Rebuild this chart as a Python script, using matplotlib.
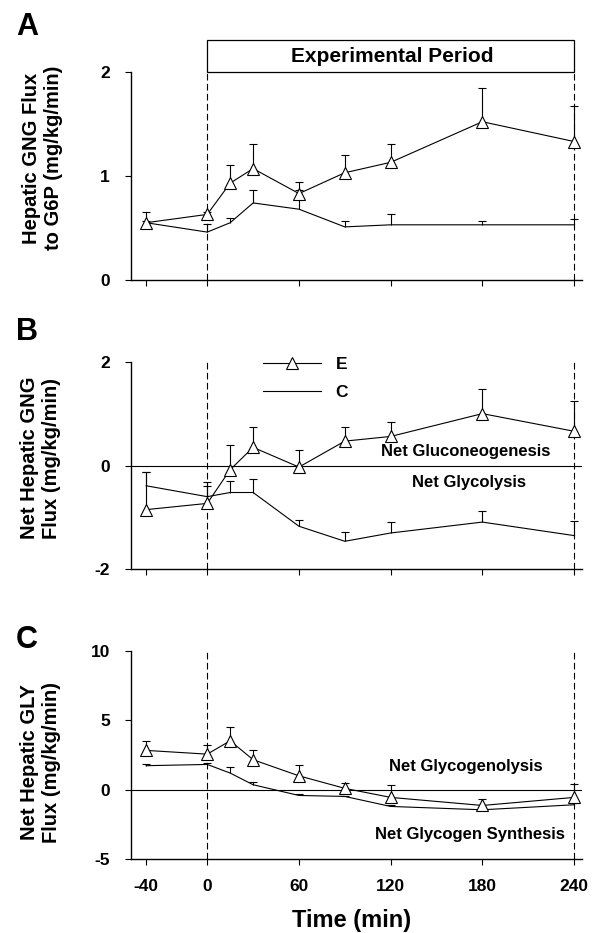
import matplotlib
matplotlib.use("Agg")
import matplotlib.pyplot as plt
from matplotlib.patches import Rectangle
from matplotlib.lines import Line2D
import numpy as np

plt.rcParams['font.family'] = ['Liberation Sans', 'DejaVu Sans']
plt.rcParams['font.weight'] = 'bold'
plt.rcParams['axes.unicode_minus'] = False

# time points (min)
t = [-40, 0, 15, 30, 60, 90, 120, 180, 240]

# panel A: hepatic GNG flux to G6P
e_a = [0.55, 0.63, 0.93, 1.07, 0.83, 1.03, 1.13, 1.52, 1.33]
e_a_err = [0.10, 0.02, 0.17, 0.24, 0.11, 0.17, 0.18, 0.32, 0.34]
c_a = [0.55, 0.46, 0.55, 0.74, 0.68, 0.51, 0.53, 0.53, 0.53]
c_a_err = [0.02, 0.08, 0.05, 0.12, 0.18, 0.06, 0.10, 0.04, 0.06]

# panel B: net hepatic GNG flux
e_b = [-0.85, -0.73, -0.08, 0.35, -0.03, 0.47, 0.56, 1.00, 0.66]
e_b_err = [0.72, 0.34, 0.47, 0.39, 0.33, 0.28, 0.27, 0.48, 0.59]
c_b = [-0.39, -0.60, -0.52, -0.52, -1.17, -1.46, -1.30, -1.09, -1.35]
c_b_err = [0.26, 0.29, 0.23, 0.26, 0.12, 0.18, 0.22, 0.22, 0.28]

# panel C: net hepatic GLY flux
e_c = [2.83, 2.56, 3.52, 2.16, 1.00, 0.10, -0.55, -1.13, -0.55]
e_c_err = [0.64, 0.63, 0.96, 0.72, 0.80, 0.38, 0.91, 0.46, 0.98]
c_c = [1.73, 1.82, 1.20, 0.36, -0.41, -0.48, -1.20, -1.44, -1.08]
c_c_err = [0.14, 0.10, 0.43, 0.17, 0.12, 0.05, 0.10, 0.10, 0.10]

xticks = [-40, 0, 60, 120, 180, 240]

fig = plt.figure(figsize=(5.92, 9.33), dpi=100)
L, W = 0.221, 0.7616
axA = fig.add_axes([L, 0.6999, W, 0.2232])
axB = fig.add_axes([L, 0.3898, W, 0.2225])
axC = fig.add_axes([L, 0.0790, W, 0.2236])


def draw(ax, e, e_err, c, c_err, ylim, yticks):
    x = np.array(t)
    e = np.array(e); c = np.array(c)
    for y, err in ((c, np.array(c_err)), (e, np.array(e_err))):
        ax.vlines(x, y, y + err, color='black', lw=0.8, zorder=2)
        ax.plot(x, y + err, ls='none', marker='_', ms=6, mew=0.8, color='black', zorder=2)
    ax.plot(x, c, color='black', lw=0.8, zorder=3)
    ax.plot(x, e, color='black', lw=0.8, marker='^', ms=9, mfc='white',
            mec='black', mew=0.8, zorder=4)
    ax.set_xlim(-50, 245)
    ax.set_ylim(*ylim)
    ax.set_yticks(yticks)
    ax.set_xticks(xticks)
    for v in (0, 240):
        ax.axvline(v, color='black', lw=0.8, dashes=(6, 3), zorder=1)
    for s in ('top', 'right'):
        ax.spines[s].set_visible(False)
    for s in ('left', 'bottom'):
        ax.spines[s].set_linewidth(1.0)
    ax.tick_params(direction='out', length=4, width=0.8, labelsize=12.5)
    ax.tick_params(axis='y', pad=11)
    ax.tick_params(axis='x', pad=10)


draw(axA, e_a, e_a_err, c_a, c_a_err, (0, 2), [0, 1, 2])
draw(axB, e_b, e_b_err, c_b, c_b_err, (-2, 2), [-2, 0, 2])
draw(axC, e_c, e_c_err, c_c, c_c_err, (-5, 10), [-5, 0, 5, 10])
axA.set_xticklabels([])
axB.set_xticklabels([])

for ax in (axB, axC):
    ax.axhline(0, color='black', lw=0.8, zorder=1)

# experimental period box
axA.add_patch(Rectangle((0, 2), 240, 0.305, fill=False, ec='black', lw=0.9, clip_on=False))
axA.text(121, 2.145, 'Experimental Period', ha='center', va='center', fontsize=15, fontweight='bold')

# annotations
axB.text(169, 0.275, 'Net Gluconeogenesis', ha='center', va='center', fontsize=12)
axB.text(171, -0.33, 'Net Glycolysis', ha='center', va='center', fontsize=12)
axC.text(169, 1.67, 'Net Glycogenolysis', ha='center', va='center', fontsize=12)
axC.text(172, -3.23, 'Net Glycogen Synthesis', ha='center', va='center', fontsize=12)

# legend
handles = [Line2D([], [], color='black', lw=0.8, marker='^', ms=9, mfc='white', mec='black', mew=0.8),
           Line2D([], [], color='black', lw=0.8)]
axB.legend(handles, ['E', 'C'], loc='upper left', bbox_to_anchor=(0.294, 1.022),
           frameon=False, fontsize=12.5, handlelength=3.3, handletextpad=0.85,
           labelspacing=0.7, borderpad=0, borderaxespad=0)

# y labels
fig.text(0.071, 0.8307, 'Hepatic GNG Flux\nto G6P (mg/kg/min)', rotation=90,
         ha='center', va='center', fontsize=14.5, fontweight='bold')
fig.text(0.068, 0.5091, 'Net Hepatic GNG\nFlux (mg/kg/min)', rotation=90,
         ha='center', va='center', fontsize=14.5, fontweight='bold')
fig.text(0.068, 0.1827, 'Net Hepatic GLY\nFlux (mg/kg/min)', rotation=90,
         ha='center', va='center', fontsize=14.5, fontweight='bold')

fig.text(0.5935, 1 - 920 / 933, 'Time (min)', ha='center', va='center', fontsize=17, fontweight='bold')

# panel letters
for lab, yy in (('A', 27), ('B', 332), ('C', 640)):
    fig.text(27 / 592, 1 - yy / 933, lab, ha='center', va='center', fontsize=22, fontweight='bold')

fig.savefig('out.png', dpi=100)
